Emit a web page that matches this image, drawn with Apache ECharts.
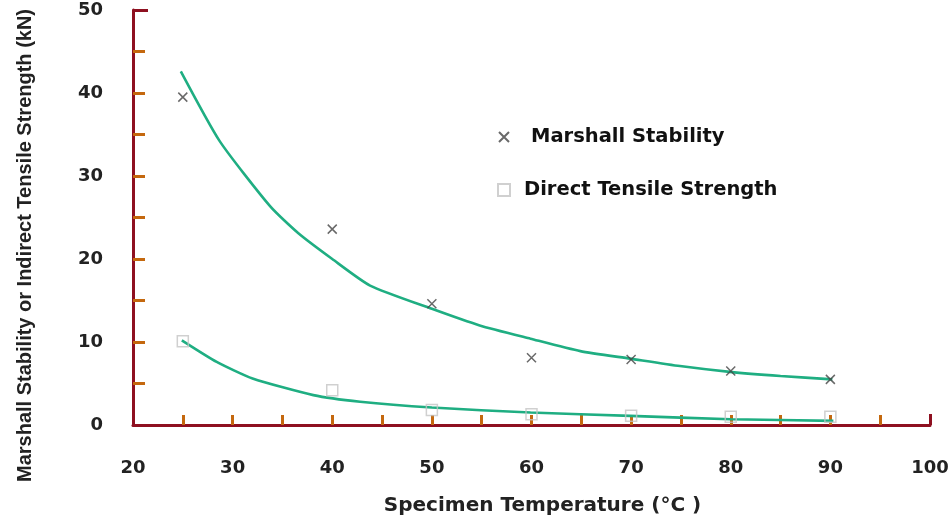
<!DOCTYPE html>
<html>
<head>
<meta charset="utf-8">
<script src="https://cdn.jsdelivr.net/npm/echarts@6/dist/echarts.min.js"></script>
<style>
  html, body { margin: 0; padding: 0; background: #fff; }
  #chart { width: 950px; height: 519px; }
</style>
</head>
<body>
<div id="chart"></div>
<script>
// measured points
const temps = [25, 40, 50, 60, 70, 80, 90];
const marshall = [39.5, 23.6, 14.6, 8.1, 7.9, 6.5, 5.5];
const tensile = [10.1, 4.2, 1.8, 1.3, 1.1, 1.0, 1.0];

// fitted curves at the kinks
const marshallFitX = [24.8, 28.7, 33.8, 36.6, 40, 43.8, 50, 54.8, 59.9, 64.9, 69.9, 74.9, 79.9, 85, 90.2];
const marshallFitY = [42.6, 34.2, 26.3, 23.1, 20.0, 16.8, 14.0, 12.0, 10.4, 8.9, 8.0, 7.1, 6.4, 5.9, 5.5];
const tensileFitX = [24.9, 28.4, 32.0, 38.1, 42.8, 50, 59.9, 69.9, 80, 90.3];
const tensileFitY = [10.2, 7.6, 5.6, 3.6, 2.8, 2.1, 1.5, 1.1, 0.7, 0.5];

const xTicks = [20, 100];
const yTicks = [0, 50];

const axisRed = '#8e1020';
const tickOrange = '#c4680e';
const green = '#1fae82';
const wideFont = 'DejaVu Sans, sans-serif';
const font = 'Liberation Sans, Arial, sans-serif';

const zip = (a, b) => a.map((v, i) => [v, b[i]]);

let myChart = echarts.init(document.getElementById('chart'));

const legendText = { fontFamily: wideFont, fontWeight: 'bold', fontSize: 19.5, color: '#111' };

const option = {
  animation: false,
  grid: { left: 133, right: 20, top: 10, bottom: 94, containLabel: false, outerBoundsMode: 'none' },
  legend: [
    {
      orient: 'vertical',
      left: 498,
      top: 127,
      padding: 0,
      itemWidth: 10,
      itemHeight: 10,
      data: ['Marshall Stability'],
      textStyle: Object.assign({ padding: [0, 0, 0, 17] }, legendText)
    },
    {
      orient: 'vertical',
      left: 497,
      top: 180,
      padding: 0,
      itemWidth: 12,
      itemHeight: 12,
      data: ['Direct Tensile Strength'],
      textStyle: Object.assign({ padding: [0, 0, 0, 9] }, legendText)
    }
  ],
  xAxis: [
    {
      type: 'value',
      min: xTicks[0],
      max: xTicks[1],
      interval: 5,
      name: 'Specimen Temperature (°C )',
      nameLocation: 'middle',
      nameGap: 71,
      nameTextStyle: { fontFamily: wideFont, fontWeight: 'bold', fontSize: 20, color: '#222', padding: [0, 0, 0, 22] },
      axisLine: { lineStyle: { color: axisRed, width: 3 } },
      axisTick: { inside: true, length: 10, lineStyle: { color: tickOrange, width: 3 } },
      axisLabel: {
        margin: 34,
        fontFamily: wideFont, fontWeight: 'bold', fontSize: 18, color: '#222',
        formatter: v => (v % 10 === 0 ? v : '')
      },
      splitLine: { show: false }
    },
    {
      type: 'value',
      min: xTicks[0],
      max: xTicks[1],
      interval: 80,
      position: 'bottom',
      axisLine: { show: false },
      axisTick: { inside: true, length: 11, lineStyle: { color: axisRed, width: 3 } },
      axisLabel: { show: false },
      splitLine: { show: false }
    }
  ],
  yAxis: [
    {
      type: 'value',
      min: yTicks[0],
      max: yTicks[1],
      interval: 5,
      name: 'Marshall Stability or Indirect Tensile Strength (kN)',
      nameLocation: 'middle',
      nameGap: 98,
      nameRotate: 90,
      nameTextStyle: { fontFamily: font, fontWeight: 'bold', fontSize: 20, color: '#222', padding: [0, 56, 0, 0] },
      axisLine: { show: true, lineStyle: { color: axisRed, width: 3 } },
      axisTick: { show: true, inside: true, length: 12, lineStyle: { color: tickOrange, width: 3 } },
      axisLabel: {
        margin: 30,
        fontFamily: wideFont, fontWeight: 'bold', fontSize: 18, color: '#222',
        formatter: v => (v % 10 === 0 ? v : '')
      },
      splitLine: { show: false }
    },
    {
      type: 'value',
      min: yTicks[0],
      max: yTicks[1],
      interval: 50,
      position: 'left',
      axisLine: { show: false },
      axisTick: { show: true, inside: true, length: 15, lineStyle: { color: axisRed, width: 3 } },
      axisLabel: { show: false },
      splitLine: { show: false }
    }
  ],
  series: [
    {
      name: 'Marshall Fit',
      type: 'line',
      data: zip(marshallFitX, marshallFitY),
      symbol: 'none',
      smooth: 0.2,
      lineStyle: { color: green, width: 2.6 },
      z: 3
    },
    {
      name: 'Tensile Fit',
      type: 'line',
      data: zip(tensileFitX, tensileFitY),
      symbol: 'none',
      smooth: 0.2,
      lineStyle: { color: green, width: 2.6 },
      z: 3
    },
    {
      name: 'Marshall Stability',
      type: 'scatter',
      data: zip(temps, marshall),
      symbol: 'path://M0,0L10,10M10,0L0,10',
      symbolSize: 9,
      itemStyle: { color: 'transparent', borderColor: '#444', borderWidth: 1.5 },
      z: 4
    },
    {
      name: 'Direct Tensile Strength',
      type: 'scatter',
      data: zip(temps, tensile),
      symbol: 'rect',
      symbolSize: 11,
      itemStyle: { color: 'rgba(255,255,255,0)', borderColor: '#c4c4c4', borderWidth: 1.5 },
      z: 4
    }
  ]
};

myChart.setOption(option);
</script>
</body>
</html>
